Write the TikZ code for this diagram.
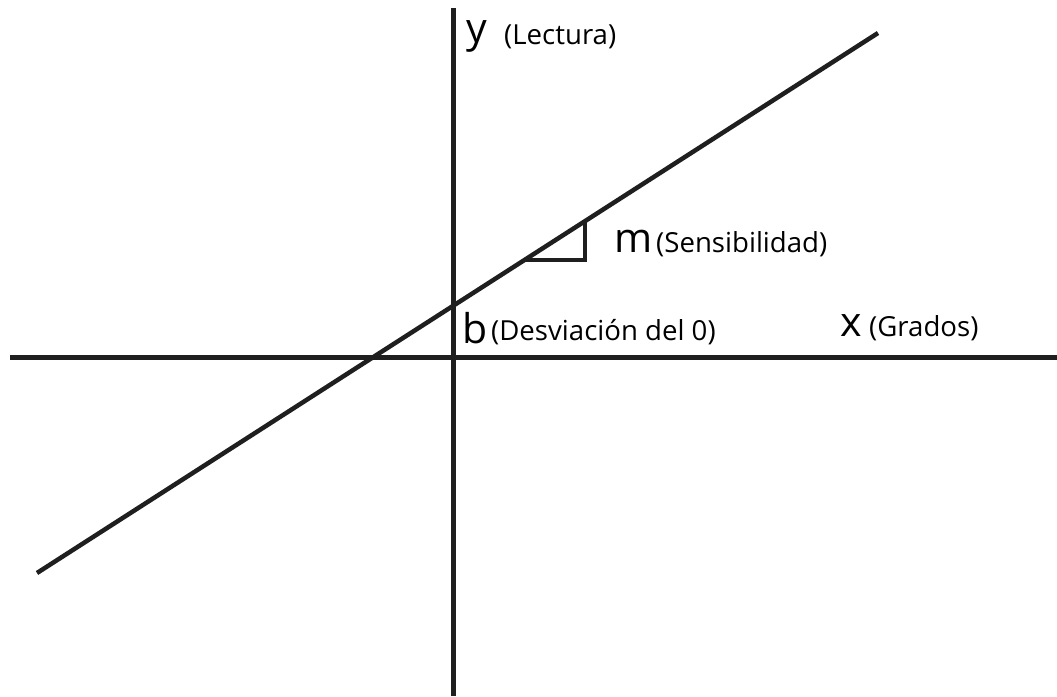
\documentclass[tikz,border=0pt]{standalone}
\usepackage{fontspec}
\setmainfont{Open Sans}
\tikzset{
  axis/.style={line width=5pt, draw=black!88},
  curve/.style={line width=4.5pt, draw=black!88},
  big/.style={inner sep=0pt, anchor=base west, font=\fontsize{41}{41}\selectfont},
  small/.style={inner sep=0pt, anchor=base west, font=\fontsize{27.6}{28}\selectfont},
}
\begin{document}
\begin{tikzpicture}[x=1pt,y=-1pt]
\useasboundingbox (0,0) rectangle (1057,696);
\coordinate (ytop) at (453,8);
\coordinate (ybot) at (453,696);
\coordinate (xl) at (10,357);
\coordinate (xr) at (1057,357);
\coordinate (la) at (37,573);
\coordinate (lb) at (878,33);
\coordinate (t1) at (524.5,260);
\coordinate (t2) at (585,260);
\coordinate (t3) at (585,221);
\draw[axis] (ytop) -- (ybot);
\draw[axis] (xl) -- (xr);
\draw[curve] (la) -- (lb);
\draw[curve, line join=miter] (t1) -- (t2) -- (t3);
\node[big] (ylab) at (466,42) {y};
\node[small] (ytxt) at (504,44) {(Lectura)};
\node[big] (mlab) at (614,252) {m};
\node[small] (mtxt) at (656,252) {(Sensibilidad)};
\node[big] (blab) at (462,343) {b};
\node[small] (btxt) at (491,340) {(Desviación del 0)};
\node[big] (xlab) at (840,336) {x};
\node[small] (xtxt) at (869,336) {(Grados)};
\end{tikzpicture}
\end{document}
